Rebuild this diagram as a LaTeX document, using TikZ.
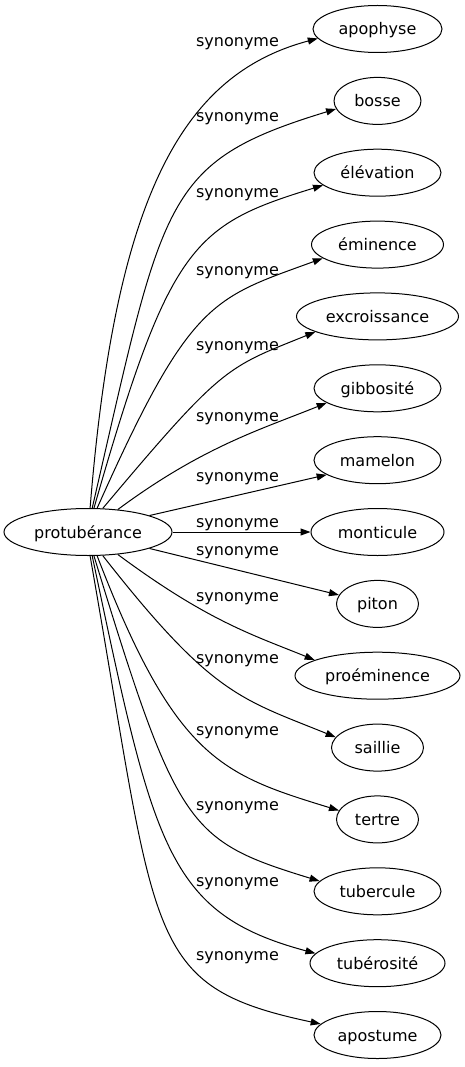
\documentclass[tikz,border=0pt]{standalone}
\usepackage{fontspec}
\setmainfont{DejaVu Sans}
\usetikzlibrary{shapes.geometric,arrows.meta}
\tikzset{
  every node/.style={font=\fontsize{16}{19}\selectfont},
  word/.style={ellipse, draw, line width=1pt, inner sep=0pt, minimum height=47pt,
    text height=12pt, text depth=0pt},
  rel/.style={anchor=base, inner sep=0pt},
  link/.style={line width=1pt, -{Triangle[length=10pt,width=7pt]}},
}
\begin{document}
\begin{tikzpicture}[x=1pt,y=-1pt]
\useasboundingbox (0,0) rectangle (465,1067);
% source
\node[word, minimum width=168pt] (p) at (88,532) {protubérance};
% targets
\node[word, minimum width=129pt] (apophyse)     at (377.5,29.0)   {apophyse};
\node[word, minimum width=87pt]  (bosse)        at (377.5,100.9)  {bosse};
\node[word, minimum width=127pt] (elevation)    at (377.5,172.7)  {élévation};
\node[word, minimum width=132pt] (eminence)     at (377.5,244.6)  {éminence};
\node[word, minimum width=162pt] (excroissance) at (377.5,316.4)  {excroissance};
\node[word, minimum width=127pt] (gibbosite)    at (377.5,388.3)  {gibbosité};
\node[word, minimum width=127pt] (mamelon)      at (377.5,460.2)  {mamelon};
\node[word, minimum width=133pt] (monticule)    at (377.5,532.0)  {monticule};
\node[word, minimum width=82pt]  (piton)        at (377.5,603.9)  {piton};
\node[word, minimum width=165pt] (proeminence)  at (377.5,675.7)  {proéminence};
\node[word, minimum width=92pt]  (saillie)      at (377.5,747.6)  {saillie};
\node[word, minimum width=82pt]  (tertre)       at (377.5,819.4)  {tertre};
\node[word, minimum width=127pt] (tubercule)    at (377.5,891.3)  {tubercule};
\node[word, minimum width=135pt] (tuberosite)   at (377.5,963.2)  {tubérosité};
\node[word, minimum width=127pt] (apostume)     at (377.5,1035.0) {apostume};
% labels
\node[rel] (l0)  at (237.5,46.7)  {synonyme};
\node[rel] (l1)  at (237.5,121.7) {synonyme};
\node[rel] (l2)  at (237.5,197.7) {synonyme};
\node[rel] (l3)  at (237.5,275.0) {synonyme};
\node[rel] (l4)  at (237.5,350.0) {synonyme};
\node[rel] (l5)  at (237.5,421.7) {synonyme};
\node[rel] (l6)  at (237.5,481.7) {synonyme};
\node[rel] (l7)  at (237.5,527.7) {synonyme};
\node[rel] (l8)  at (237.5,555.0) {synonyme};
\node[rel] (l9)  at (237.5,601.7) {synonyme};
\node[rel] (l10) at (237.5,663.0) {synonyme};
\node[rel] (l11) at (237.5,735.0) {synonyme};
\node[rel] (l12) at (237.5,810.0) {synonyme};
\node[rel] (l13) at (237.5,886.7) {synonyme};
\node[rel] (l14) at (237.5,960.0) {synonyme};
% edges
\draw[link] (p.85) .. controls (115,200) and (180,75) .. (apophyse.189);
\draw[link] (p.80) .. controls (164,197) and (162,162) .. (bosse.191);
\draw[link] (p.76) .. controls (169.5,244.7) and (192.6,225.1) .. (elevation.193);
\draw[link] (p.69) .. controls (190.3,299) and (212.5,298.5) .. (eminence.194);
\draw[link] (p.58) .. controls (223.8,364.4) and (226.2,368) .. (excroissance.194);
\draw[link] (p.37) .. controls (202.9,446.4) and (262.4,428.9) .. (gibbosite.196);
\draw[link] (p.15) -- (mamelon.196);
\draw[link] (p.east) -- (monticule.west);
\draw[link] (p.345) -- (piton.167);
\draw[link] (p.323) .. controls (207.9,621.3) and (253.3,635.1) .. (proeminence.166);
\draw[link] (p.302) .. controls (212,695.1) and (240.2,698.5) .. (saillie.166);
\draw[link] (p.291) .. controls (175.3,759.3) and (221.9,774.6) .. (tertre.167);
\draw[link] (p.284) .. controls (177.3,828.4) and (187.3,840.6) .. (tubercule.170);
\draw[link] (p.280) .. controls (153.7,846.5) and (166.4,913.4) .. (tuberosite.171);
\draw[link] (p.275) .. controls (158,941) and (142.3,986.1) .. (apostume.169);
\end{tikzpicture}
\end{document}
